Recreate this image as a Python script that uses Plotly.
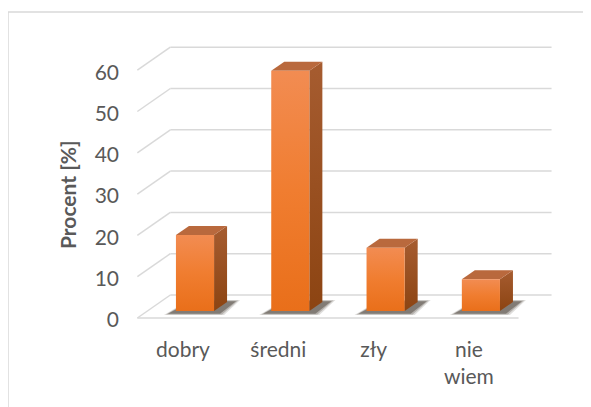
import plotly.graph_objects as go

# ---- data ----
categories = ["dobry", "średni", "zły", "nie<br>wiem"]
values = [18.4, 58.2, 15.3, 7.7]
y_ticks = [0, 10, 20, 30, 40, 50, 60]
axis_title = "Procent [%]"

# ---- layout geometry (pixels, page coordinates; page body has 8px margin) ----
OFF = 8
W, H = 591 - OFF, 407 - OFF
L, R, T, B = 120 - OFF, 575 - OFF, 20 - OFF, 335 - OFF
X0PX, XSTEP = 195.0 - OFF, 95.3      # pixel of category 0 centre, px per category
Y0PX, YSTEP = 311.0 - OFF, 4.13      # pixel of value 0 (bar plane), px per unit
xr = [(L - X0PX) / XSTEP, (R - X0PX) / XSTEP]
yr = [(Y0PX - B) / YSTEP, (Y0PX - T) / YSTEP]

def dx(px):
    return px / XSTEP

def dy(px):  # px upward
    return px / YSTEP

BW = 0.4
bdx, bdy = dx(13), dy(9)          # bar depth
backx, backy = dx(23), dy(16)     # back wall offset from bar plane
frontx, fronty = dx(-10), dy(-7)  # front edge offset from bar plane
xl, xrgt = -0.5, 3.5

GRID = "#d9d9d9"
TXT = "#595959"
FONT = "Lato, Carlito, 'Liberation Sans', sans-serif"

fig = go.Figure()
shapes = []

# back wall gridlines + left wall diagonals
for v in y_ticks:
    shapes.append(dict(type="line", xref="x", yref="y", layer="below",
                       x0=xl + backx, x1=xrgt + backx, y0=v + backy, y1=v + backy,
                       line=dict(color=GRID, width=1.5)))
    shapes.append(dict(type="line", xref="x", yref="y", layer="below",
                       x0=xl + frontx, x1=xl + backx, y0=v + fronty, y1=v + backy,
                       line=dict(color=GRID, width=1.5)))
# front floor edge
shapes.append(dict(type="line", xref="x", yref="y", layer="below",
                   x0=xl + frontx, x1=xrgt + frontx, y0=fronty, y1=fronty,
                   line=dict(color=GRID, width=1.5)))

# outer chart border (paper coords from page pixels)
def pxx(p):
    return (p - OFF - L) / (R - L)

def pxy(p):
    return (B - (p - OFF)) / (B - T)

shapes.append(dict(type="rect", xref="paper", yref="paper", layer="below",
                   x0=pxx(8), x1=pxx(620), y0=pxy(12), y1=pxy(440),
                   line=dict(color="#d9d9d9", width=1.5)))

for i, v in enumerate(values):
    x = float(i)
    # soft shadow on the floor
    for k, op in enumerate([0.14, 0.22, 0.34]):
        g = 3 - k
        sx = [x - BW / 2 - dx(6 + 2 * g), x + BW / 2 + dx(4 + 2 * g),
              x + BW / 2 + dx(20 + 2 * g), x - BW / 2 + dx(16 - g)]
        sy = [dy(-2 - g * 0.7), dy(-2 - g * 0.7), dy(9 + g * 0.7), dy(9 + g * 0.7)]
        fig.add_trace(go.Scatter(x=sx + [sx[0]], y=sy + [sy[0]], mode="lines",
                                 fill="toself", fillcolor=f"rgba(30,20,10,{op})",
                                 line=dict(width=0), hoverinfo="skip", showlegend=False))
    # side face
    fig.add_trace(go.Scatter(
        x=[x + BW / 2, x + BW / 2 + bdx, x + BW / 2 + bdx, x + BW / 2, x + BW / 2],
        y=[0, bdy, v + bdy, v, 0], mode="lines", fill="toself",
        fillgradient=dict(type="vertical", colorscale=[[0, "#8c4412"], [1, "#a65c30"]]),
        line=dict(width=0), hoverinfo="skip", showlegend=False))
    # top face
    fig.add_trace(go.Scatter(
        x=[x - BW / 2, x + BW / 2, x + BW / 2 + bdx, x - BW / 2 + bdx, x - BW / 2],
        y=[v, v, v + bdy, v + bdy, v], mode="lines", fill="toself",
        fillcolor="#b9693d", line=dict(width=0), hoverinfo="skip", showlegend=False))
    # front face
    fig.add_trace(go.Scatter(
        x=[x - BW / 2, x + BW / 2, x + BW / 2, x - BW / 2, x - BW / 2],
        y=[0, 0, v, v, 0], mode="lines", fill="toself",
        fillgradient=dict(type="vertical", colorscale=[[0, "#e96f1a"], [0.5, "#f07d30"], [1, "#f28c52"]]),
        line=dict(width=0), name=categories[i].replace("<br>", " "),
        hovertemplate="%{text}<extra></extra>", text=[f"{v}"] * 5, showlegend=False))

fig.update_layout(
    width=W, height=H,
    margin=dict(l=L, r=W - R, t=T, b=H - B),
    paper_bgcolor="white", plot_bgcolor="white",
    font=dict(family=FONT, color=TXT, size=21),
    shapes=shapes,
    showlegend=False,
    xaxis=dict(range=xr, showgrid=False, zeroline=False, showline=False,
               tickmode="array", tickvals=list(range(len(categories))),
               ticktext=categories, ticks="", ticklabelshift=-12,
               tickfont=dict(size=21, color=TXT), fixedrange=True),
    yaxis=dict(range=yr, showgrid=False, zeroline=False, showline=False,
               tickmode="array", tickvals=y_ticks, ticks="",
               ticklabelshift=9, tickfont=dict(size=21, color=TXT), fixedrange=True),
    annotations=[dict(text=f"<b>{axis_title}</b>", xref="paper", yref="paper",
                      x=pxx(67), y=pxy(195), textangle=-90, showarrow=False,
                      font=dict(size=21, color=TXT, family=FONT),
                      xanchor="center", yanchor="middle")],
)

fig.write_html("out.html")
